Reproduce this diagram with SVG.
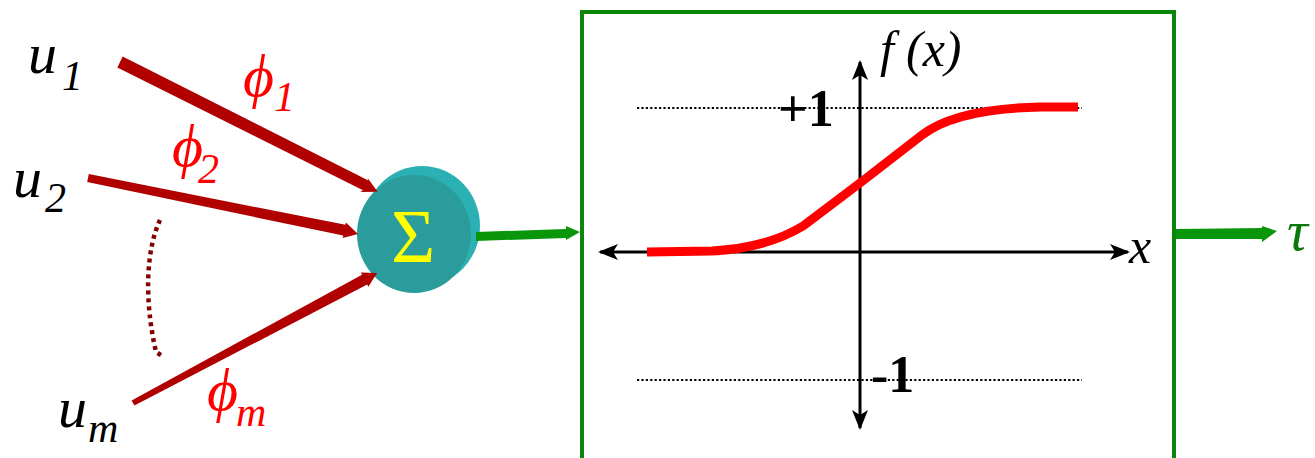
<svg xmlns="http://www.w3.org/2000/svg" width="1315" height="458" viewBox="0 0 1315 458">
  <defs>
    <marker id="axisHead" viewBox="0 0 20 16" refX="18" refY="8" markerWidth="20" markerHeight="16" markerUnits="userSpaceOnUse" orient="auto-start-reverse">
      <path d="M0,0 L20,8 L0,16 L5,8 Z" fill="#000"/>
    </marker>
  </defs>
  <rect width="1315" height="458" fill="#fff"/>

  <!-- input labels -->
  <g id="input-u1" font-family="'Times New Roman', 'Liberation Serif', 'DejaVu Serif', serif" font-style="italic">
    <text x="28" y="73" font-size="58">u</text>
    <text x="62" y="90" font-size="42">1</text>
  </g>
  <g id="input-u2" font-family="'Times New Roman', 'Liberation Serif', 'DejaVu Serif', serif" font-style="italic">
    <text x="13" y="197" font-size="58">u</text>
    <text x="45" y="212" font-size="42">2</text>
  </g>
  <g id="input-um" font-family="'Times New Roman', 'Liberation Serif', 'DejaVu Serif', serif" font-style="italic">
    <text x="58" y="427" font-size="58">u</text>
    <text x="88" y="442" font-size="42">m</text>
  </g>

  <!-- weight labels -->
  <g id="weight-phi1" fill="#ff0000" font-family="'Times New Roman', 'Liberation Serif', 'DejaVu Serif', serif" font-style="italic">
    <text x="243" y="96" font-size="60">ϕ</text>
    <text x="274" y="111" font-size="42">1</text>
  </g>
  <g id="weight-phi2" fill="#ff0000" font-family="'Times New Roman', 'Liberation Serif', 'DejaVu Serif', serif" font-style="italic">
    <text x="172" y="166" font-size="60">ϕ</text>
    <text x="198" y="183" font-size="42">2</text>
  </g>
  <g id="weight-phim" fill="#ff0000" font-family="'Times New Roman', 'Liberation Serif', 'DejaVu Serif', serif" font-style="italic">
    <text x="207" y="410" font-size="60">ϕ</text>
    <text x="236" y="426" font-size="42">m</text>
  </g>

  <!-- summing junction -->
  <g id="sum-node">
    <ellipse cx="422" cy="226" rx="58" ry="60" fill="#2bb0b4"/>
    <ellipse cx="414" cy="234" rx="57" ry="59" fill="#2a9c9c"/>
    <text font-family="'Times New Roman', 'Liberation Serif', 'DejaVu Serif', serif" x="413" y="262" font-size="76" fill="#ffff00" text-anchor="middle">Σ</text>
  </g>

  <!-- activation block -->
  <g id="activation" font-family="'Times New Roman', 'Liberation Serif', 'DejaVu Serif', serif">
    <rect x="582" y="12" width="592" height="448" fill="none" stroke="#0a860a" stroke-width="4"/>
    <line x1="637" y1="108" x2="1082" y2="108" stroke="#000" stroke-width="2.2" stroke-dasharray="2.2 2.2"/>
    <line x1="637" y1="380" x2="1082" y2="380" stroke="#000" stroke-width="2.2" stroke-dasharray="2.2 2.2"/>
    <line x1="860" y1="428" x2="860" y2="62" stroke="#000" stroke-width="3" marker-start="url(#axisHead)" marker-end="url(#axisHead)"/>
    <line x1="600" y1="252" x2="1128" y2="252" stroke="#000" stroke-width="3" marker-start="url(#axisHead)" marker-end="url(#axisHead)"/>
    <path d="M647,252 L712,251 C750,249 780,240 803,226 L860,183 L922,135 C948,115 990,108 1040,107 L1078,107" fill="none" stroke="#ff0000" stroke-width="9"/>
    <text font-weight="bold" x="778" y="126" font-size="52">+1</text>
    <text font-weight="bold" x="871" y="392" font-size="52">-1</text>
    <text font-style="italic" x="880" y="66" font-size="50">f</text>
    <text font-style="italic" x="906" y="66" font-size="50">(x)</text>
    <text font-style="italic" x="1129" y="263" font-size="50">x</text>
  </g>

  <!-- output label -->
  <g id="output-tau">
    <text font-family="'Times New Roman', 'Liberation Serif', 'DejaVu Serif', serif" font-style="italic" x="1287" y="250" font-size="58" fill="#0a780a">τ</text>
  </g>

  <!-- connectors -->
  <g id="connectors">
    <g fill="#b00000">
      <polygon points="122.7,56.6 368.4,180.5 367.6,177.9 377.6,191.8 360.4,192.1 363.0,190.2 117.3,67.4"/>
      <polygon points="88.8,174.1 345.4,224.8 345.9,222.4 358,234 342.7,238.0 343.2,235.6 87.2,181.9"/>
      <polygon points="131.6,400.4 362.0,274.8 360.8,272.5 377,273 368.4,286.7 367.2,284.5 134.4,405.6"/>
    </g>
    <path d="M160,220 C146,250 144,300 156,352 L164,357" fill="none" stroke="#800000" stroke-width="4.5" stroke-dasharray="4 4"/>
    <g fill="#0a960a">
      <polygon points="476,232 566,229 566,226 580,232 566,240 566,238 476,241"/>
      <polygon points="1176,229 1262,228 1262,226 1277,231 1262,242 1262,239 1176,239"/>
    </g>
  </g>
</svg>
